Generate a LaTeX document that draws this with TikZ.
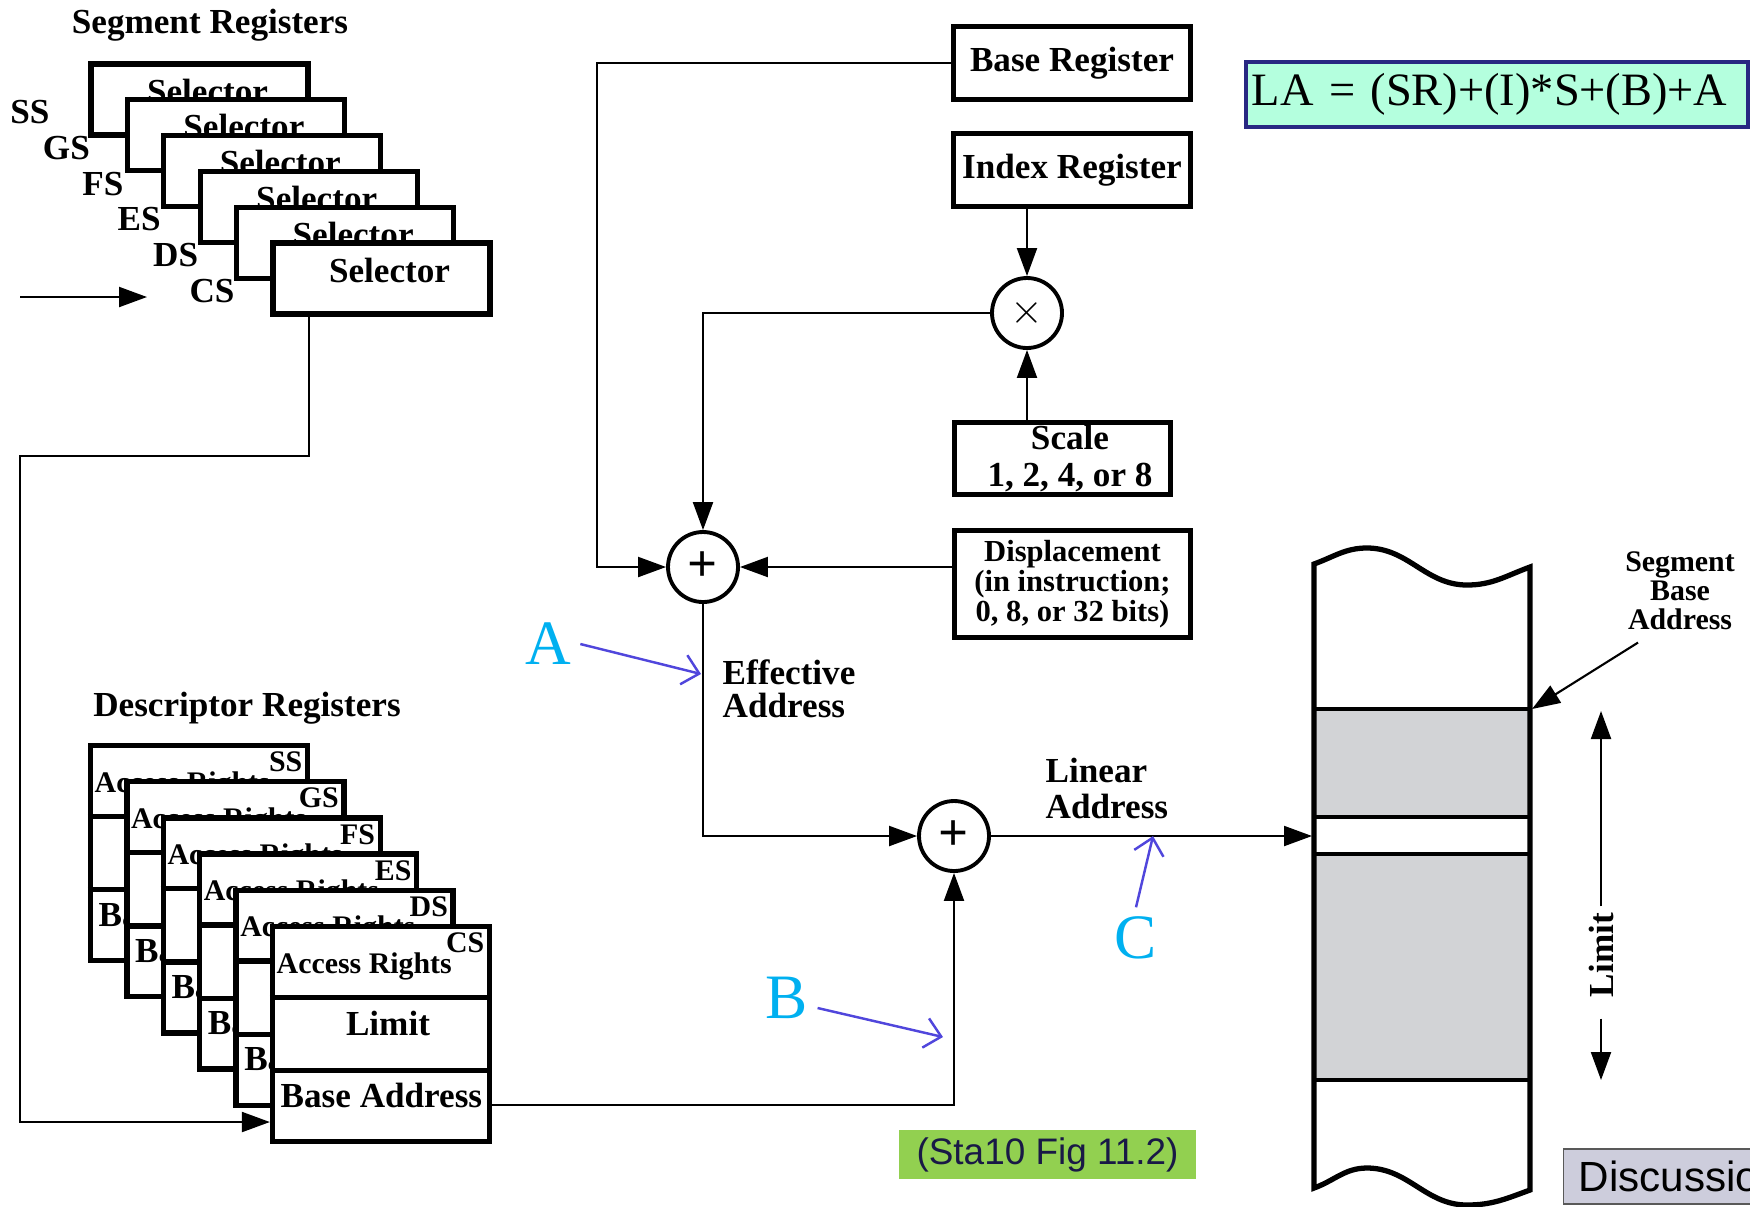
\documentclass[tikz,border=0pt]{standalone}
\usepackage{fontspec}
\setmainfont{Liberation Serif}
\newfontfamily\notefont{Liberation Sans}
\usetikzlibrary{arrows.meta,calc,positioning}
\usepackage{xcolor}

\definecolor{mint}{RGB}{180,255,222}
\definecolor{navy}{RGB}{40,40,130}
\definecolor{figgreen}{RGB}{146,208,80}
\definecolor{figtext}{RGB}{25,25,70}
\definecolor{discfill}{RGB}{205,205,220}
\definecolor{annot}{RGB}{0,176,240}
\definecolor{annotarrow}{RGB}{80,70,220}
\definecolor{segfill}{RGB}{210,211,214}

\begin{document}
\begin{tikzpicture}[x=1cm, y=-1cm,
  font=\fontsize{10}{11}\selectfont\bfseries,
  wire/.style={line width=0.6pt},
  arr/.style={-{Triangle[length=2.8mm,width=2mm]}},
  txt/.style={inner sep=0pt},
  smalltxt/.style={inner sep=0pt, font=\fontsize{8.5}{8.2}\selectfont\bfseries},
  regbox/.style={draw, line width=1.5pt, fill=white, minimum width=2.37cm, minimum height=0.73cm, inner sep=0pt},
  selbox/.style={draw, line width=1.5pt, fill=white, minimum width=2.17cm, minimum height=0.71cm, inner sep=0pt},
  descbox/.style={draw, line width=1.5pt, fill=white, minimum width=2.17cm, minimum height=2.15cm, inner sep=0pt},
  adder/.style={draw, circle, line width=1.1pt, minimum size=0.7cm, inner sep=0pt, font=\fontsize{15}{15}\selectfont\bfseries},
  annotlbl/.style={inner sep=2.5pt, text=annot, font=\fontsize{18}{18}\selectfont},
  pointer/.style={line width=0.7pt, draw=annotarrow, -{Straight Barb[length=1.6mm,width=3mm]}}]

\useasboundingbox (0,0) rectangle (17.5,12.06);

% Segment registers
\node[txt] (segtitle) at (2.10,0.25) {Segment Registers};
\foreach \r [count=\i from 0] in {SS,GS,FS,ES,DS,CS} {
  \node[selbox] (seg\i) at (1.995+0.364*\i, 0.995+0.358*\i) {};
  \node[txt] (seltxt\i) at ([xshift=0.8mm,yshift=0.85mm]seg\i.center) {Selector};
  \node[txt] (segname\i) at (0.30+0.364*\i, 1.12+0.358*\i) {\r};
}
\coordinate (selin) at (0.20,2.97);
\coordinate (selinend) at (1.47,2.97);
\draw[wire,arr] (selin) -- (selinend);

% Descriptor registers
\node[txt] (desctitle) at (2.47,7.08) {Descriptor Registers};
\foreach \r [count=\i from 0] in {SS,GS,FS,ES,DS,CS} {
  \node[descbox] (desc\i) at (1.99+0.364*\i, 8.53+0.362*\i) {};
  \draw[line width=1.5pt] ([yshift=3.67mm]desc\i.west) -- ([yshift=3.67mm]desc\i.east);
  \draw[line width=1.5pt] ([yshift=-3.67mm]desc\i.west) -- ([yshift=-3.67mm]desc\i.east);
  \node[smalltxt, anchor=west] (acc\i) at ([xshift=-10.5mm,yshift=6.8mm]desc\i.center) {Access Rights};
  \node[smalltxt, anchor=east] (descname\i) at ([xshift=10.4mm,yshift=9.1mm]desc\i.center) {\r};
  \node[txt] (lim\i) at ([xshift=0.7mm,yshift=1.1mm]desc\i.center) {Limit};
  \node[txt, anchor=west] (base\i) at ([xshift=-10.1mm,yshift=-6.1mm]desc\i.center) {Base Address};
}

\coordinate (loopcorner) at (0.20,4.56);
\draw[wire,arr] ([xshift=-7.25mm]seg5.south) |- (loopcorner) |- ([yshift=-8.8mm]desc5.west);

% address arithmetic
\node[regbox] (basereg) at (10.72,0.63) {Base Register};
\node[regbox] (indexreg) at (10.72,1.70) {Index Register};
\node[adder, font=\fontsize{13}{13}\selectfont] (times) at (10.27,3.13) {$\times$};
\node[regbox, minimum width=2.16cm, minimum height=0.72cm, align=center,
      font=\fontsize{10}{10.8}\selectfont\bfseries] (scale) at (10.625,4.585) {\hspace*{1.5mm}Scale\\\hspace*{1.5mm}1, 2, 4, or 8};
\node[regbox, minimum width=2.36cm, minimum height=1.07cm, align=center,
      font=\fontsize{8.7}{8.5}\selectfont\bfseries] (disp) at (10.725,5.84) {Displacement\\(in instruction;\\0, 8, or 32 bits)};
\node[adder] (plus1) at (7.03,5.67) {+};
\node[adder] (plus2) at (9.54,8.36) {+};

\node[txt, anchor=west, align=left, font=\fontsize{10}{9.4}\selectfont\bfseries] (effaddr) at (7.22,6.885) {Effective\\Address};
\node[txt, anchor=west, align=left, font=\fontsize{10}{10.5}\selectfont\bfseries] (linaddrtxt) at (10.45,7.885) {Linear\\Address};

\draw[wire,arr] (basereg.west) -| ([xshift=-6.9mm]plus1.west) -- (plus1.west);
\draw[wire,arr] (indexreg.south -| times.north) -- (times.north);
\draw[wire,arr] (scale.north -| times.south) -- (times.south);
\draw[wire,arr] (times.west) -| (plus1.north);
\draw[wire,arr] (disp.west |- plus1.east) -- (plus1.east);
\draw[wire,arr] (plus1.south) |- (plus2.west);
\draw[wire,arr] ([yshift=-7.1mm]desc5.east) -| (plus2.south);

% memory segment
\fill[segfill] (13.14,7.09) rectangle (15.30,8.17);
\fill[segfill] (13.14,8.54) rectangle (15.30,10.80);
\draw[line width=1pt] (13.14,7.09) -- (15.30,7.09);
\draw[line width=1.4pt] (13.14,8.17) -- (15.30,8.17);
\draw[line width=1.4pt] (13.14,8.54) -- (15.30,8.54);
\draw[line width=1pt] (13.14,10.80) -- (15.30,10.80);
\draw[line width=1.5pt] (13.14,5.64) to[out=20,in=180] (13.67,5.48) to[out=0,in=180] (14.67,5.85) to[out=0,in=200] (15.30,5.67)
  -- (15.30,11.90) to[out=200,in=0] (14.67,12.05) to[out=180,in=0] (13.67,11.68) to[out=180,in=20] (13.14,11.88) -- cycle;

\coordinate (linaddr) at (13.12,8.36);
\draw[wire,arr] (plus2.east) -- (linaddr);

\node[smalltxt, align=center] (sba) at (16.80,5.91) {Segment\\Base\\Address};
\coordinate (segbase) at (15.32,7.09);
\draw[wire,arr] ([xshift=-4.2mm,yshift=-1.2mm]sba.south) -- (segbase);

\node[txt, rotate=90] (limit) at (16.01,9.55) {Limit};
\coordinate (limtop) at (16.01,7.11);
\coordinate (limbot) at (16.01,10.80);
\draw[wire,arr] ([yshift=0.6mm]limit.east) -- (limtop);
\draw[wire,arr] ([yshift=-2.1mm]limit.west) -- (limbot);

% annotations
\node[annotlbl] (lblA) at (5.48,6.44) {A};
\node[annotlbl] (lblB) at (7.87,9.98) {B};
\node[annotlbl] (lblC) at (11.36,9.38) {C};
\coordinate (eaptr) at (7.01,6.74);
\coordinate (baptr) at (9.43,10.37);
\coordinate (laptr) at (11.53,8.36);
\draw[pointer] (lblA.east) -- (eaptr);
\draw[pointer] ([yshift=-1mm]lblB.east) -- (baptr);
\draw[pointer] (lblC.north) -- (laptr);

\node[draw=navy, line width=1pt, fill=mint, anchor=west, text width=4.9cm, align=left, inner xsep=0.6mm,
      minimum height=0.6cm, font=\fontsize{13.2}{14}\selectfont] (laform) at (12.44,0.945) {LA = (SR)+(I)*S+(B)+A};

\node[fill=figgreen, minimum width=2.97cm, minimum height=0.49cm, inner sep=0pt, text=figtext,
      font=\notefont\fontsize{10.5}{12}\selectfont] (figref) at (10.475,11.545) {(Sta10 Fig 11.2)};
\node[draw=gray!70!black, fill=discfill, anchor=west, minimum height=0.55cm, inner xsep=1.5mm,
      font=\notefont\fontsize{12}{14}\selectfont] (discuss) at (15.63,11.765) {Discussion};

\end{tikzpicture}
\end{document}
